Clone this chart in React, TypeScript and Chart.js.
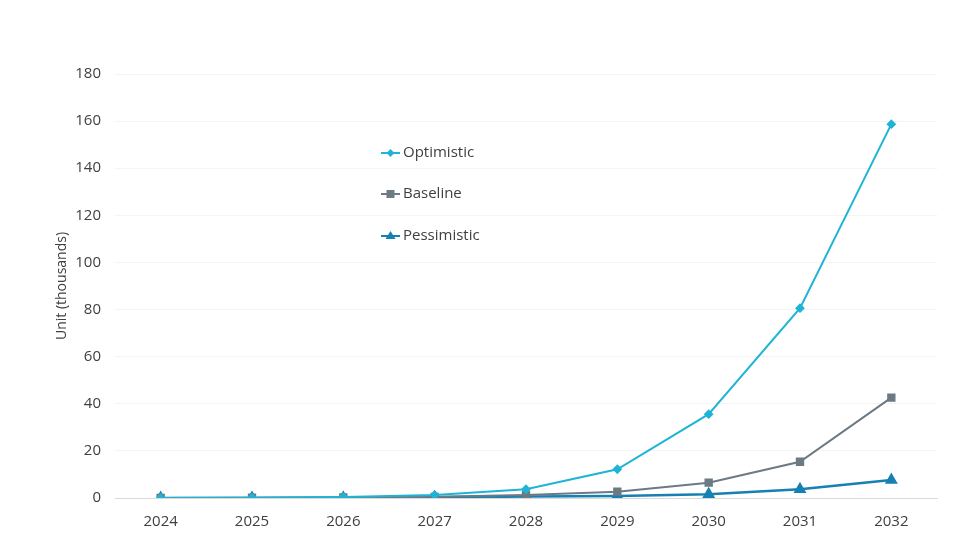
import React, { useEffect, useRef } from "react";
import { Chart, registerables } from "chart.js";

Chart.register(...registerables);

const years = ["2024", "2025", "2026", "2027", "2028", "2029", "2030", "2031", "2032"];
const optimistic = [0, 0.1, 0.4, 1.3, 3.7, 12.2, 35.6, 80.6, 158.7];
const baseline = [0, 0.1, 0.2, 0.5, 1.3, 2.7, 6.5, 15.4, 42.6];
const pessimistic = [0, 0.05, 0.1, 0.3, 0.6, 0.9, 1.6, 3.7, 7.6];
const yTicks = [0, 20, 40, 60, 80, 100, 120, 140, 160, 180];

const FONT = "'Open Sans', 'Noto Sans', sans-serif";

// legend drawn inside the plot, near the middle-left
const insideLegend = {
  id: "insideLegend",
  afterDraw(chart: any) {
    const ctx = chart.ctx;
    const x0 = 381;
    const rows = [153, 194, 236];
    ctx.save();
    chart.data.datasets.forEach((ds: any, i: number) => {
      const y = rows[i];
      ctx.strokeStyle = ds.borderColor;
      ctx.lineWidth = 2;
      ctx.beginPath();
      ctx.moveTo(x0, y);
      ctx.lineTo(x0 + 19, y);
      ctx.stroke();
      ctx.fillStyle = ds.backgroundColor;
      const cx = x0 + 9.5;
      const r = 4;
      ctx.beginPath();
      if (ds.pointStyle === "rectRot") {
        ctx.moveTo(cx, y - r);
        ctx.lineTo(cx + r, y);
        ctx.lineTo(cx, y + r);
        ctx.lineTo(cx - r, y);
      } else if (ds.pointStyle === "rect") {
        ctx.rect(cx - r, y - r, 2 * r, 2 * r);
      } else {
        ctx.moveTo(cx, y - r - 1);
        ctx.lineTo(cx + r + 1, y + r - 1);
        ctx.lineTo(cx - r - 1, y + r - 1);
      }
      ctx.closePath();
      ctx.fill();
      ctx.fillStyle = "#404040";
      ctx.font = `15px ${FONT}`;
      ctx.textBaseline = "middle";
      ctx.textAlign = "left";
      ctx.fillText(ds.label, x0 + 22, y);
    });
    ctx.restore();
  },
};

const App = () => {
  const chartRef = useRef<HTMLCanvasElement | null>(null);

  useEffect(() => {
    const ctx = chartRef.current?.getContext("2d");
    if (!ctx) return;

    const chartInstance = new Chart(ctx, {
      type: "line",
      data: {
        labels: years,
        datasets: [
          {
            label: "Optimistic",
            data: optimistic,
            borderColor: "#1fb4d6",
            backgroundColor: "#1fb4d6",
            pointStyle: "rectRot",
            pointRadius: 3.5,
            borderWidth: 2,
          },
          {
            label: "Baseline",
            data: baseline,
            borderColor: "#6c7a84",
            backgroundColor: "#6c7a84",
            pointStyle: "rect",
            pointRadius: 4.5,
            borderWidth: 2,
          },
          {
            label: "Pessimistic",
            data: pessimistic,
            borderColor: "#1780b3",
            backgroundColor: "#1780b3",
            pointStyle: "triangle",
            pointRadius: 5,
            borderWidth: 2.5,
          },
        ],
      },
      options: {
        animation: false,
        responsive: false,
        maintainAspectRatio: false,
        layout: { padding: { top: 74, right: 43, left: 54, bottom: 0 } },
        plugins: {
          legend: { display: false },
          tooltip: { enabled: false },
        },
        scales: {
          x: {
            offset: true,
            grid: { display: false },
            border: { color: "#d9d9d9" },
            ticks: { color: "#404040", font: { family: FONT, size: 15 }, padding: 7 },
            afterFit: (scale: any) => {
              scale.height = 62;
            },
          },
          y: {
            min: 0,
            max: 180,
            afterBuildTicks: (scale: any) => {
              scale.ticks = yTicks.map((v) => ({ value: v }));
            },
            grid: { color: "#f4f4f4", drawTicks: false },
            border: { display: false },
            ticks: { color: "#404040", font: { family: FONT, size: 15 }, padding: 14 },
            title: {
              display: true,
              text: "Unit (thousands)",
              color: "#404040",
              font: { family: FONT, size: 14 },
              padding: { top: 0, bottom: 0 },
            },
            afterFit: (scale: any) => {
              scale.width = 61;
            },
          },
        },
      },
      plugins: [insideLegend],
    });

    return () => {
      chartInstance.destroy();
    };
  }, []);

  return (
    <div style={{ position: "absolute", left: 0, top: 0, width: 980, height: 560, background: "#fff" }}>
      <canvas ref={chartRef} width={980} height={560} />
    </div>
  );
};

export default App;
